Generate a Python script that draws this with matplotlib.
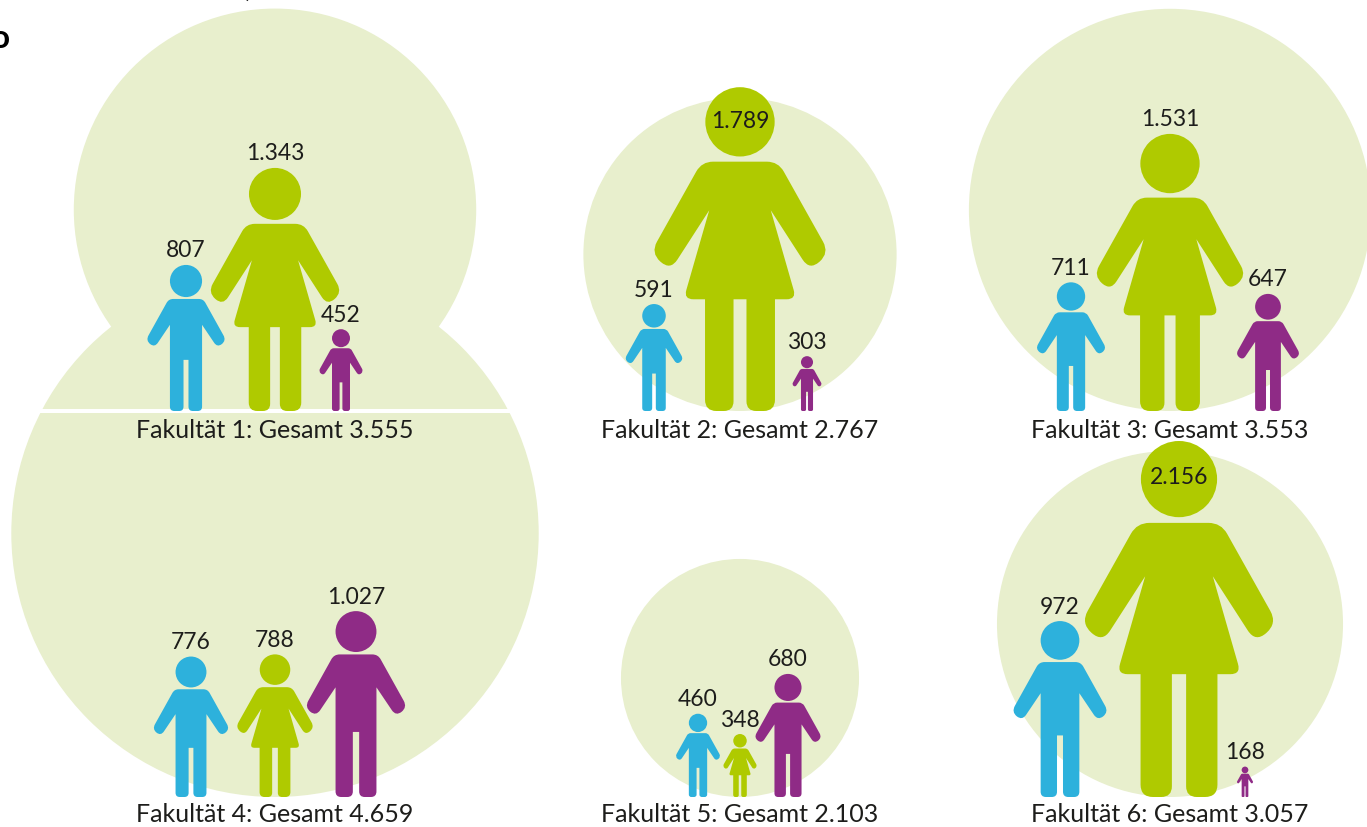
import matplotlib
matplotlib.use("Agg")
import matplotlib.pyplot as plt
from matplotlib.path import Path
from matplotlib.patches import PathPatch, Circle

# --- data ---
faculties = ["Fakultät 1", "Fakultät 2", "Fakultät 3", "Fakultät 4", "Fakultät 5", "Fakultät 6"]
totals = [3555, 2767, 3553, 4659, 2103, 3057]
blue_values = [807, 591, 711, 776, 460, 972]
green_values = [1343, 1789, 1531, 788, 348, 2156]
purple_values = [452, 303, 647, 1027, 680, 168]

# --- layout (pixels) ---
W, H = 1367, 827
centre_x = [275, 740, 1170, 275, 740, 1170]
baseline = [411, 411, 411, 797, 797, 797]
caption_y = [430, 430, 430, 815, 815, 815]
blue_x = [186, 654, 1071, 191, 698, 1060]
green_x = [275, 740, 1170, 275, 740, 1179]
purple_x = [341, 807, 1268, 356, 788, 1245]
R_PER_VALUE = 0.0566
H_PER_VALUE = 0.181
green_height_override = {5: 356}
inside_head = {1: 121, 5: 477}

BG = "#E8EFCD"
GREEN = "#AFCA00"
BLUE = "#2DB1DC"
PURPLE = "#8F2B86"
INK = "#1D1D1B"
FONT = "Lato"

# Half outlines, height normalised to 1 (x, y, corner radius)
FEMALE = [(0, .230, 0), (.118, .230, .035), (.276, .512, .04), (.215, .566, .04),
          (.095, .380, 0), (.174, .655, .03), (.108, .655, 0), (.108, 1, .035),
          (.020, 1, .03), (.020, .655, 0), (0, .655, 0)]
MALE = [(0, .233, 0), (.118, .233, .03), (.276, .517, .04), (.215, .566, .04),
        (.110, .410, 0), (.110, 1, .03), (.017, 1, .03), (.017, .650, 0), (0, .650, 0)]
HEAD = {"f": .107, "m": .110}


def rounded_path(points):
    verts, codes = [], []
    n = len(points)
    for i, (x, y, r) in enumerate(points):
        if r == 0:
            verts.append((x, y))
            codes.append(Path.MOVETO if i == 0 else Path.LINETO)
            continue
        px, py, _ = points[i - 1]
        nx, ny, _ = points[(i + 1) % n]
        d1 = ((px - x) ** 2 + (py - y) ** 2) ** .5
        d2 = ((nx - x) ** 2 + (ny - y) ** 2) ** .5
        r1, r2 = min(r, d1 / 2), min(r, d2 / 2)
        a = (x + (px - x) * r1 / d1, y + (py - y) * r1 / d1)
        b = (x + (nx - x) * r2 / d2, y + (ny - y) * r2 / d2)
        verts += [a, (x, y), b]
        codes += [Path.MOVETO if i == 0 else Path.LINETO, Path.CURVE3, Path.CURVE3]
    verts.append(verts[0])
    codes.append(Path.CLOSEPOLY)
    return Path(verts, codes)


def draw_person(ax, x, foot, height, outline, head_ratio, colour):
    top = foot - height
    left = [(-a, b, c) for a, b, c in reversed(outline[1:-1])]
    pts = outline + left
    scaled = [(x + a * height, top + b * height, c * height) for a, b, c in pts]
    ax.add_patch(PathPatch(rounded_path(scaled), fc=colour, ec="none", zorder=4))
    r = head_ratio * height
    ax.add_patch(Circle((x, top + r), r, fc=colour, ec="none", zorder=4))
    return top


def fmt(v):
    return f"{v:,}".replace(",", ".")


fig = plt.figure(figsize=(W / 100, H / 100), dpi=100)
ax = fig.add_axes([0, 0, 1, 1])
ax.set_xlim(0, W)
ax.set_ylim(H, 0)
ax.axis("off")

for i in [3, 4, 5, 0, 1, 2]:
    r = totals[i] * R_PER_VALUE
    ax.add_patch(Circle((centre_x[i], baseline[i] - r), r, fc=BG, ec="none", zorder=1))

ax.plot([40, 511], [410.5, 410.5], color="white", lw=4 * 72 / 100, solid_capstyle="butt", zorder=2)

for i in range(6):
    for vals, xs, outline, hr, col, key in (
        (blue_values, blue_x, MALE, HEAD["m"], BLUE, "b"),
        (green_values, green_x, FEMALE, HEAD["f"], GREEN, "g"),
        (purple_values, purple_x, MALE, HEAD["m"], PURPLE, "p"),
    ):
        v = vals[i]
        h = v * H_PER_VALUE
        if key == "g" and i in green_height_override:
            h = green_height_override[i]
        top = draw_person(ax, xs[i], baseline[i], h, outline, hr, col)
        ly = inside_head[i] if key == "g" and i in inside_head else top - 14
        ax.text(xs[i], ly, fmt(v), ha="center", va="center", fontsize=16.5,
                family=FONT, color=INK, zorder=5)
    ax.text(centre_x[i], caption_y[i], f"{faculties[i]}: Gesamt {fmt(totals[i])}",
            ha="center", va="center", fontsize=18, family=FONT, color=INK, zorder=5)

# cropped fragments of the text above the picture
ax.text(0, 38, "o", ha="center", va="center", fontsize=24, fontweight="bold", family=FONT, color="black")
ax.text(248, 2, ",", ha="center", va="bottom", fontsize=20, fontweight="bold", family=FONT, color="black")

fig.savefig("out.png", dpi=100, facecolor="white")
